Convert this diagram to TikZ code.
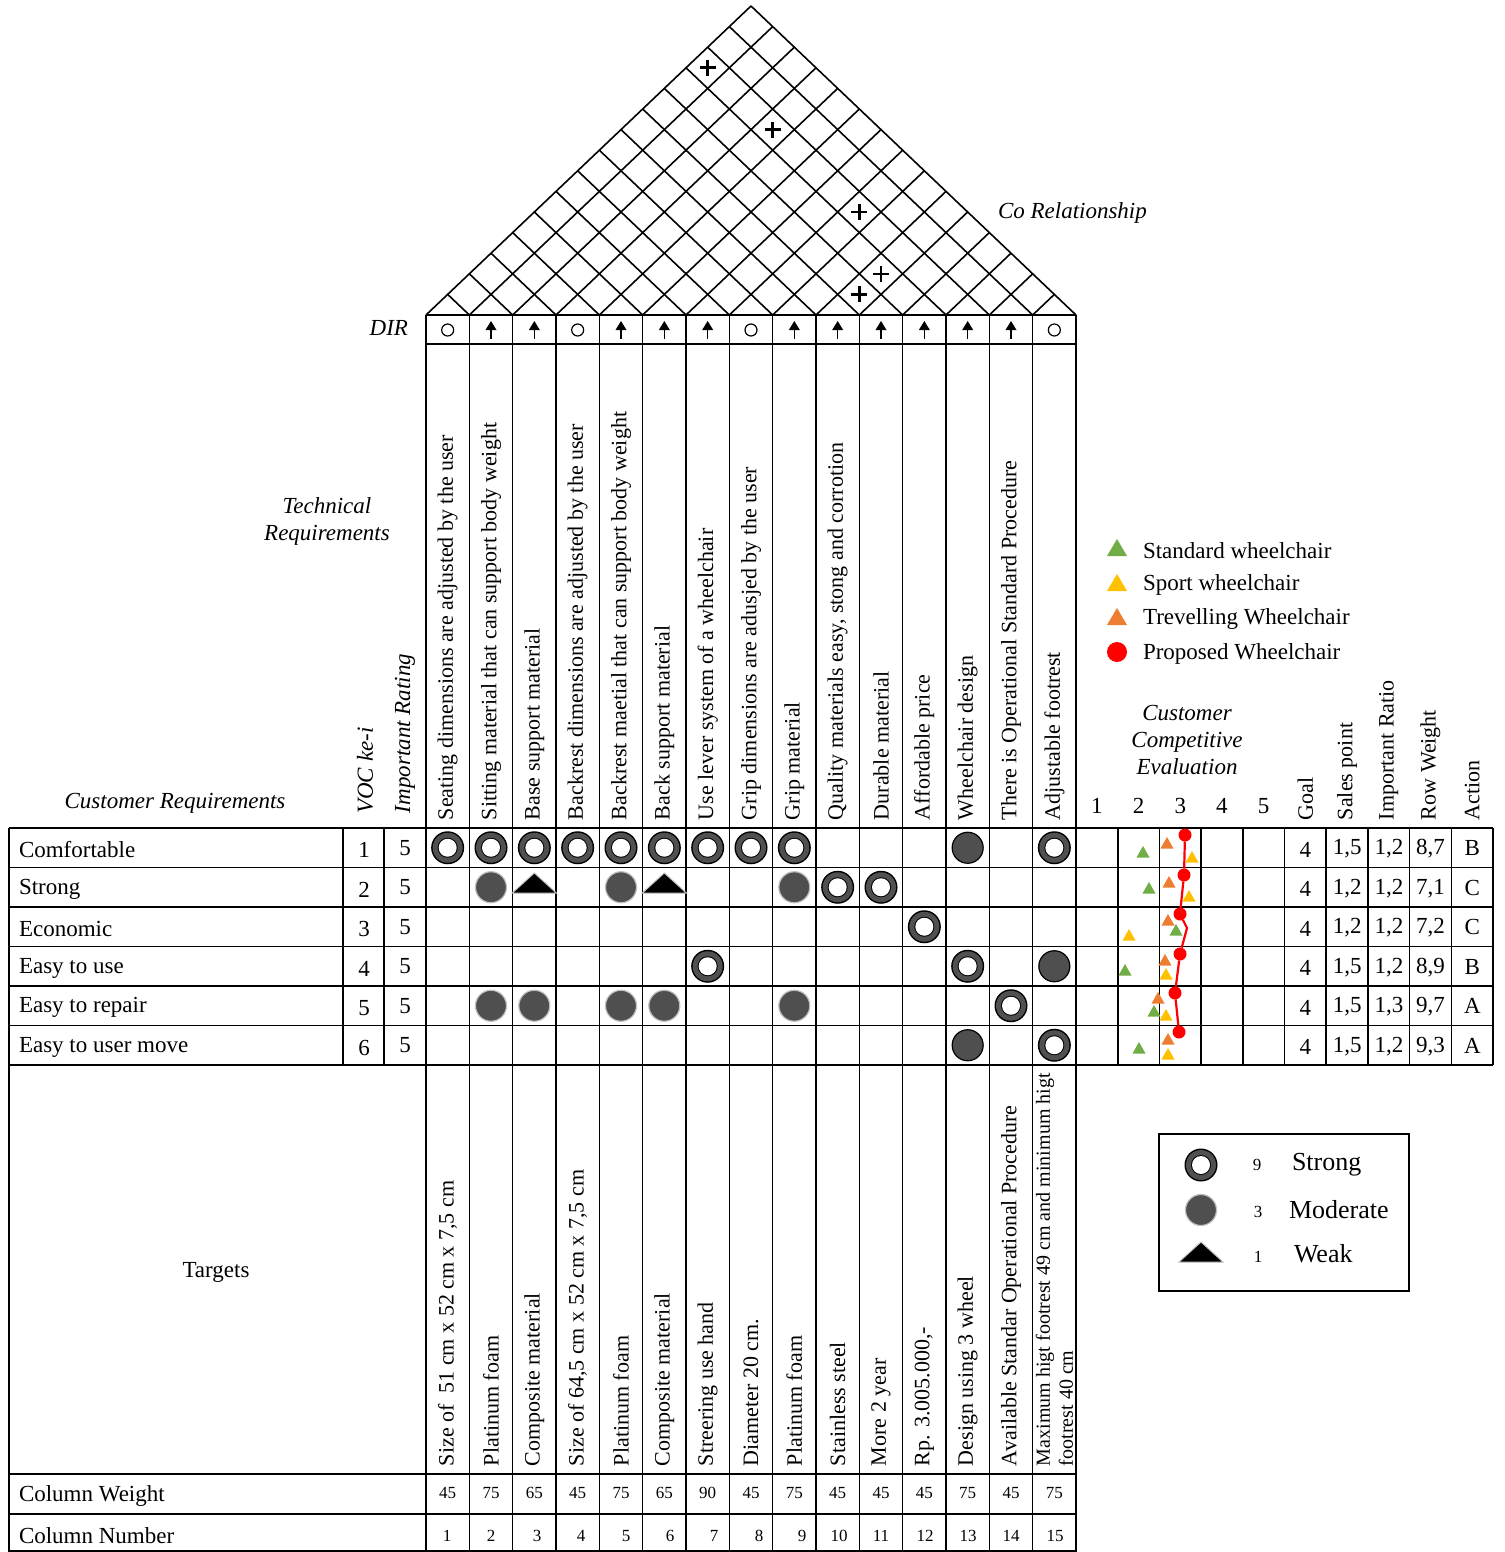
\documentclass[tikz,border=0pt]{standalone}
\usepackage{fontspec}
\setmainfont{Liberation Serif}
\definecolor{ringgray}{HTML}{505050}
\definecolor{modgray}{HTML}{4F4F4F}
\definecolor{stdgreen}{HTML}{70AD47}
\definecolor{sportyel}{HTML}{FFC000}
\definecolor{travor}{HTML}{ED7D31}
\definecolor{propred}{HTML}{FF0000}
\tikzset{
  strongsym/.pic={\fill[black] (0,0) circle[radius=16.5]; \fill[ringgray] (0,0) circle[radius=15]; \fill[black] (0,0) circle[radius=10]; \fill[white] (0,0) circle[radius=9];},
  modsym/.pic={\filldraw[fill=modgray,draw=lightgray,line width=0.6pt] (0,0) circle[radius=15.5];},
  modsymb/.pic={\filldraw[fill=modgray,draw=black,line width=0.6pt] (0,0) circle[radius=15.5];},
  weaksym/.pic={\filldraw[fill=black,draw=lightgray,line width=0.5pt] (-22,10) -- (22,10) -- (0,-10) -- cycle;},
  dircirc/.pic={\draw[line width=0.6pt] (0,0) circle[radius=6];},
  dirarrow/.pic={\draw[line width=0.7pt] (0,9) -- (0,-2); \fill (-5.5,0) -- (5.5,0) -- (0,-9) -- cycle;},
}
\newcommand\cmptri[3]{\fill[#1] (#2-6.5,#3+5.5) -- (#2+6.5,#3+5.5) -- (#2,#3-6) -- cycle;}
\newcommand\legtri[3]{\fill[#1] (#2-10,#3+8) -- (#2+10,#3+8) -- (#2,#3-9) -- cycle;}
\begin{document}
\begin{tikzpicture}[x=0.5pt,y=-0.5pt,
  every node/.style={inner sep=0pt, outer sep=0pt},
  ln/.style={line width=0.8pt},
  bl/.style={line width=1.2pt},
  txt/.style={font=\fontsize{11.5}{13.5}\selectfont},
  itx/.style={font=\fontsize{11.5}{13.5}\selectfont\itshape},
  hdr/.style={rotate=90, anchor=west, font=\fontsize{11}{13}\selectfont},
  ihdr/.style={rotate=90, anchor=west, font=\fontsize{11.5}{13}\selectfont\itshape},
  smallnum/.style={font=\fontsize{8.5}{9.5}\selectfont},
  reddot/.style={circle, fill=propred, minimum size=6.5pt},
]
\useasboundingbox (0,0) rectangle (1504,1552);

% ---------- roof ----------
\foreach \i in {0,...,15}{
  \draw[ln] (426+43.3333*\i,315) -- ++({325*(1-\i/15)},{-309*(1-\i/15)});
  \draw[ln] (426+43.3333*\i,315) -- ++({-325*\i/15},{-309*\i/15});
}
\foreach \i/\j in {1/13,4/13,8/13,10/12,10/11}{
  \pgfmathsetmacro\px{426+43.3333*((\i+\j)/2-0.5)}
  \pgfmathsetmacro\py{315-(\j-\i)*20.6}
  \draw[line width=1.3pt] (\px-8,\py) -- (\px+8,\py) (\px,\py-8) -- (\px,\py+8);
}

% ---------- grid ----------
\draw[ln] (426,315) -- (1076,315);
\draw[ln] (426,344) -- (1076,344);
\foreach \r in {1,...,5} \draw[ln] (9,828+39.5*\r) -- (1493,828+39.5*\r);
\draw[bl] (9,828) -- (1493,828);
\draw[bl] (9,1065) -- (1493,1065);
\draw[ln] (9,1474) -- (1076,1474);
\draw[ln] (9,1514) -- (1076,1514);
\draw[bl] (9,1551) -- (1076,1551);
\draw[bl] (9,828) -- (9,1552);
\draw[ln] (343,828) -- (343,1065);
\draw[ln] (384,828) -- (384,1065);
\foreach \k in {1,...,14} \draw[ln] (426+43.3333*\k,315) -- (426+43.3333*\k,1552);
\draw[bl] (426,315) -- (426,1552);
\draw[bl] (1076,315) -- (1076,1552);
\foreach \k in {1,...,9} \draw[ln] (1076+41.7*\k,828) -- (1076+41.7*\k,1065);
\draw[bl] (1493,828) -- (1493,1065);

% ---------- DIR ----------
\foreach \k/\d in {1/dircirc,2/dirarrow,3/dirarrow,4/dircirc,5/dirarrow,6/dirarrow,7/dirarrow,8/dircirc,9/dirarrow,10/dirarrow,11/dirarrow,12/dirarrow,13/dirarrow,14/dirarrow,15/dircirc}
  \pic at (426+43.3333*\k-21.6667,330) {\d};

% ---------- technical requirement headers ----------
\foreach \k/\t in {1/{Seating dimensions are adjusted by the user},
  2/{Sitting material that can support body weight},
  3/{Base support material},
  4/{Backrest dimensions are adjusted by the user},
  5/{Backrest maetial that can support body weight},
  6/{Back support material},
  7/{Use lever system of a wheelchair},
  8/{Grip dimensions are adusjed by the user},
  9/{Grip material},
  10/{Quality materials easy, stong and corrotion},
  11/{Durable material},
  12/{Affordable price},
  13/{Wheelchair design},
  14/{There is Operational Standard Procedure},
  15/{Adjustable footrest}}
  \node[hdr] (h\k) at (426+43.3333*\k-21.6667,820) {\t};

% ---------- targets ----------
\foreach \k/\t in {1/{Size of \ 51 cm x 52 cm x 7,5 cm},
  2/{Platinum foam},
  3/{Composite material},
  4/{Size of 64,5 cm x 52 cm x 7,5 cm},
  5/{Platinum foam},
  6/{Composite material},
  7/{Streering use hand},
  8/{Diameter 20 cm.},
  9/{Platinum foam},
  10/{Stainless steel},
  11/{More 2 year},
  12/{Rp. 3.005.000,-},
  13/{Design using 3 wheel},
  14/{Available Standar Operational Procedure}}
  \node[hdr] (t\k) at (426+43.3333*\k-21.6667,1466) {\t};
\node[rotate=90, anchor=west, align=left, font=\fontsize{10}{11.5}\selectfont] (t15) at (1054.3,1466) {Maximum higt footrest 49 cm and minimum higt\\footrest 40 cm};

% ---------- left labels ----------
\node[itx, anchor=east] (dir) at (408,328) {DIR};
\node[itx, align=center] (techreq) at (327,521) {Technical\\Requirements};
\node[itx] (custreq) at (175,803) {Customer Requirements};
\node[ihdr] (voc) at (365,813) {VOC ke-i};
\node[ihdr] (imprat) at (405,813) {Important Rating};
\node[itx, anchor=west] (corel) at (998,213) {Co Relationship};
\node[txt] (targets) at (216,1272) {Targets};
\node[txt, anchor=west] (cwl) at (19,1496) {Column Weight};
\node[txt, anchor=west] (cnl) at (19,1536) {Column Number};

% ---------- customer requirement rows ----------
\foreach \r/\t in {1/Comfortable,2/Strong,3/Economic,4/Easy to use,5/Easy to repair,6/Easy to user move}{
  \node[txt, anchor=west] (cr\r) at (19,828+39.5*\r-18) {\t};
  \node[txt] (vn\r) at (364,828+39.5*\r-17.5) {\r};
  \node[txt] (ir\r) at (405,828+39.5*\r-19.5) {5};
}

% ---------- relationship matrix ----------
\foreach \k in {1,...,9,15} \pic at (426+43.3333*\k-21.6667,847.75) {strongsym};
\pic at (426+43.3333*13-21.6667,847.75) {modsymb};
\foreach \k in {2,5,9} \pic at (426+43.3333*\k-21.6667,887.25) {modsym};
\foreach \k in {3,6} \pic at (426+43.3333*\k-21.6667,883) {weaksym};
\foreach \k in {10,11} \pic at (426+43.3333*\k-21.6667,887.25) {strongsym};
\pic at (426+43.3333*12-21.6667,926.75) {strongsym};
\foreach \k in {7,13} \pic at (426+43.3333*\k-21.6667,966.25) {strongsym};
\pic at (426+43.3333*15-21.6667,966.25) {modsymb};
\foreach \k in {2,3,5,6,9} \pic at (426+43.3333*\k-21.6667,1005.75) {modsym};
\pic at (426+43.3333*14-21.6667,1005.75) {strongsym};
\pic at (426+43.3333*13-21.6667,1045.25) {modsymb};
\pic at (426+43.3333*15-21.6667,1045.25) {strongsym};

% ---------- column weight / number ----------
\foreach \k/\v in {1/45,2/75,3/65,4/45,5/75,6/65,7/90,8/45,9/75,10/45,11/45,12/45,13/75,14/45,15/75}
  \node[smallnum] (cw\k) at (426+43.3333*\k-21.6667,1493) {\v};
\foreach \k/\x in {1/447,2/491,3/537,4/581,5/626,6/670,7/714,8/759,9/802,10/839,11/881,12/925,13/968,14/1011,15/1055}
  \node[smallnum] (cn\k) at (\x,1536) {\k};

% ---------- competitive evaluation headers ----------
\node[itx, align=center] (cce) at (1187,740) {Customer\\Competitive\\Evaluation};
\foreach \k in {1,...,5} \node[txt] (sc\k) at (1076+41.7*\k-20.85,806) {\k};
\foreach \k/\t in {6/Goal,7/Sales point,8/Important Ratio,9/Row Weight,10/Action}
  \node[rotate=90, anchor=west, font=\fontsize{11}{13}\selectfont] (rh\k) at (1076+41.7*\k-20.85,820) {\t};

% ---------- right values ----------
\foreach \r/\a/\b/\c/\d in {1/{1,5}/{1,2}/{8,7}/B, 2/{1,2}/{1,2}/{7,1}/C, 3/{1,2}/{1,2}/{7,2}/C, 4/{1,5}/{1,2}/{8,9}/B, 5/{1,5}/{1,3}/{9,7}/A, 6/{1,5}/{1,2}/{9,3}/A}{
  \node[txt] (g\r) at (1305.4,828+39.5*\r-18) {4};
  \node[txt] (sp\r) at (1347.2,828+39.5*\r-18.5) {\a};
  \node[txt] (ra\r) at (1388.9,828+39.5*\r-18.5) {\b};
  \node[txt] (rw\r) at (1430.6,828+39.5*\r-18.5) {\c};
  \node[txt] (ac\r) at (1472.3,828+39.5*\r-19.5) {\d};
}

% ---------- competitive chart ----------
\cmptri{travor}{1167}{843}\cmptri{stdgreen}{1143}{852}\cmptri{sportyel}{1192}{857}
\cmptri{travor}{1169}{882}\cmptri{stdgreen}{1149}{888}\cmptri{sportyel}{1189}{896}
\cmptri{travor}{1168}{920}\cmptri{stdgreen}{1176}{930}\cmptri{sportyel}{1129}{935}
\cmptri{travor}{1165}{960}\cmptri{sportyel}{1166}{974}\cmptri{stdgreen}{1125}{970}
\cmptri{travor}{1158}{998}\cmptri{stdgreen}{1154}{1011}\cmptri{sportyel}{1166}{1015}
\cmptri{travor}{1168}{1039}\cmptri{sportyel}{1168}{1054}\cmptri{stdgreen}{1139}{1048}
\node[reddot] (p1) at (1185,835) {};
\node[reddot] (p2) at (1184,875) {};
\node[reddot] (p3) at (1180,914) {};
\coordinate (k3) at (1187,928);
\node[reddot] (p4) at (1180,954) {};
\node[reddot] (p5) at (1175,993) {};
\node[reddot] (p6) at (1179,1032) {};
\draw[propred, line width=1.1pt] (p1) -- (p2) -- (p3) -- (k3) -- (p4) -- (p5) -- (p6);

% ---------- top-right legend ----------
\legtri{stdgreen}{1117}{548}
\legtri{sportyel}{1117}{583}
\legtri{travor}{1117}{617}
\node[circle, fill=propred, minimum size=10pt] (legp) at (1117,652) {};
\node[txt, anchor=west] (l1) at (1143,551) {Standard wheelchair};
\node[txt, anchor=west] (l2) at (1143,585) {Sport wheelchair};
\node[txt, anchor=west] (l3) at (1143,619) {Trevelling Wheelchair};
\node[txt, anchor=west] (l4) at (1143,654) {Proposed Wheelchair};

% ---------- bottom-right legend ----------
\draw[line width=0.9pt] (1159,1134) rectangle (1409,1291);
\pic at (1201,1165) {strongsym};
\pic at (1201,1210) {modsym};
\pic at (1201,1252) {weaksym};
\node[smallnum] (n9) at (1257,1165) {9};
\node[smallnum] (n3) at (1258,1212) {3};
\node[smallnum] (n1) at (1258,1257) {1};
\node[font=\fontsize{13}{15}\selectfont, anchor=west] (ls) at (1292,1165) {Strong};
\node[font=\fontsize{13}{15}\selectfont, anchor=west] (lm) at (1289,1210) {Moderate};
\node[font=\fontsize{13}{15}\selectfont, anchor=west] (lw) at (1294,1254) {Weak};
\end{tikzpicture}
\end{document}
